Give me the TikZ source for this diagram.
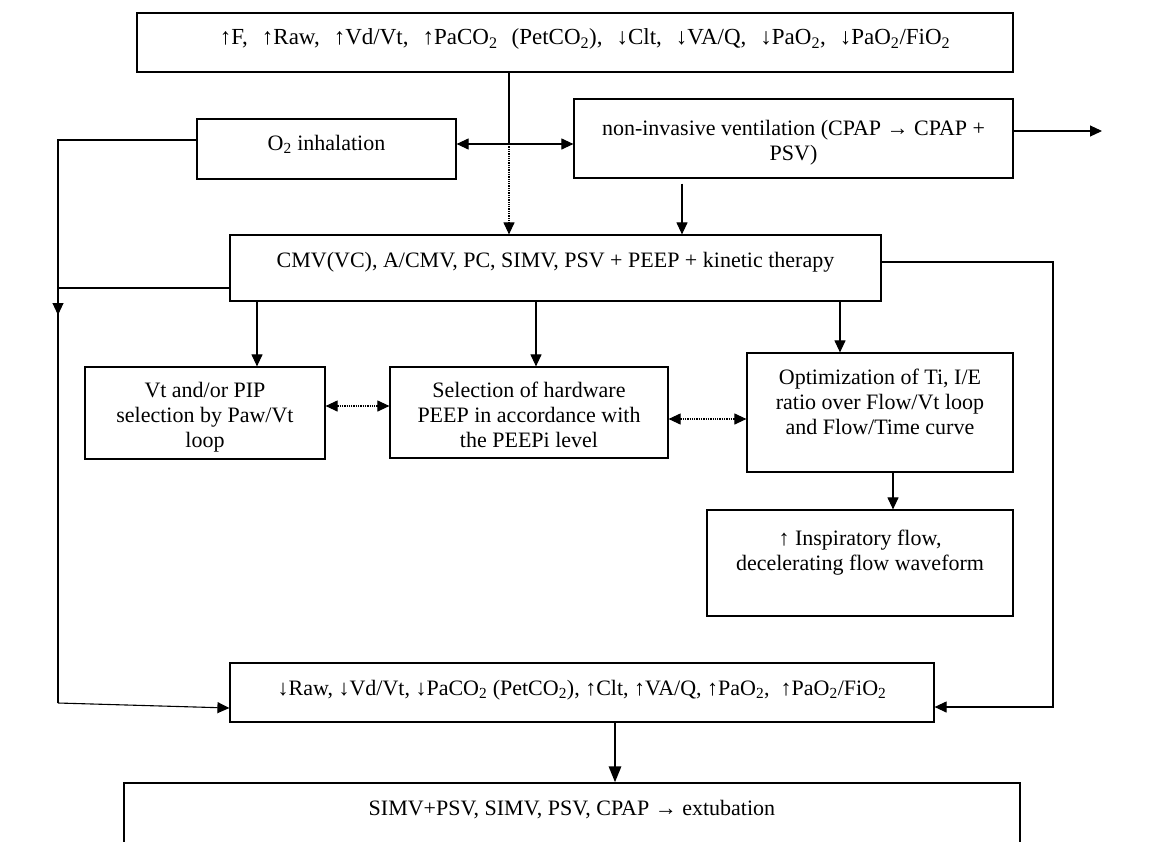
\documentclass[tikz,border=0pt]{standalone}
\usepackage{fontspec}
\setmainfont{Liberation Serif}
\usetikzlibrary{arrows.meta}
\usetikzlibrary{calc}
\newcommand{\boxtxt}[4]{\parbox[c][#2pt][t]{#1pt}{\centering\vspace*{#3pt}#4\par}}
\newcommand{\two}{\textsubscript{2}}

\begin{document}
\begin{tikzpicture}[x=1pt, y=-1pt,
	box/.style={draw, line width=1.2pt, inner sep=0pt, font=\fontsize{22}{25}\selectfont},
	arr/.style={-{Triangle[length=12pt,width=11pt]}, line width=1.1pt},
	bigarr/.style={-{Triangle[length=16pt,width=12pt]}, line width=2.8pt},
	dotarr/.style={-{Triangle[length=12pt,width=11pt]}, line width=1.1pt, dash pattern=on 1.3pt off 1pt},
	dblarr/.style={{Triangle[length=12pt,width=11pt]}-{Triangle[length=12pt,width=11pt]}, line width=1.1pt, dash pattern=on 1.3pt off 1pt}]
				\clip (0,0) rectangle (1156,841);
				% boxes
				\node[box] (top) at (575,42.5) {\boxtxt{876}{59}{16}{\fontsize{23}{25}\selectfont\spaceskip=14pt\hspace*{20pt}↑F, ↑Raw, ↑Vd/Vt, ↑PaCO\two{} (PetCO\two), ↓Clt, ↓VA/Q, ↓PaO\two, ↓PaO\two/FiO\two}};
				\node[box] (otwo) at (326.5,149) {\boxtxt{259}{60}{16.5}{O\two{} inhalation}};
				\node[box] (niv) at (793.5,138.5) {\boxtxt{439}{79}{21.5}{non-invasive ventilation (CPAP → CPAP +\\ PSV)}};
				\node[box] (cmv) at (555.5,268) {\boxtxt{651}{66}{17.5}{CMV(VC), A/CMV, PC, SIMV, PSV + PEEP + kinetic therapy}};
				\node[box] (vt) at (205,413) {\boxtxt{240}{92}{15.5}{Vt and/or PIP\\ selection by Paw/Vt\\ loop}};
				\node[box] (hwpeep) at (529,412.5) {\boxtxt{278}{91}{15.5}{Selection of hardware\\ PEEP in accordance with\\ the PEEPi level}};
				\node[box] (optim) at (880,412.5) {\boxtxt{266}{119}{16.5}{Optimization of Ti, I/E\\ ratio over Flow/Vt loop\\ and Flow/Time curve}};
				\node[box] (insp) at (860,563) {\boxtxt{306}{106}{19.5}{↑ Inspiratory flow,\\ decelerating flow waveform}};
				\node[box] (result) at (582,692.5) {\boxtxt{704}{59}{17.5}{↓Raw, ↓Vd/Vt, ↓PaCO\two{} (PetCO\two), ↑Clt, ↑VA/Q, ↑PaO\two,~ ↑PaO\two/FiO\two}};
				\node[box] (wean) at (572,833) {\boxtxt{896}{100}{17.5}{SIMV+PSV, SIMV, PSV, CPAP → extubation}};
				
				% branch below the first box
				\coordinate (split) at (509,144);
				\draw[line width=2.8pt] (top.south -| split) -- (split);
				\draw[arr] (split) -- ([yshift=5pt]otwo.east);
				\draw[arr] (split) -- ([yshift=-5.5pt]niv.west);
				\draw[dotarr] (split) -- (cmv.north -| split);
				\coordinate (nivout) at (1102,131);
				\draw[arr] ([yshift=7.5pt]niv.east) -- (nivout);
				\draw[arr, shorten <=5pt] (niv.south -| 682,0) -- (cmv.north -| 682,0);
				
				% from the ventilation modes
				\draw[arr] (cmv.south -| 257,0) -- (vt.north -| 257,0);
				\draw[arr] (cmv.south -| 536,0) -- (hwpeep.north -| 536,0);
				\draw[arr] (cmv.south -| 840,0) -- (optim.north -| 840,0);
				\draw[arr] (optim.south -| 893,0) -- (insp.north -| 893,0);
				\draw[dblarr] ([yshift=7pt]vt.east) -- ([yshift=6.5pt]hwpeep.west);
				\draw[dblarr] ([yshift=-6.5pt]hwpeep.east) -- ([yshift=-6.5pt]optim.west);
				
				% left loop
				\coordinate (ltop) at (58,140);
				\coordinate (lmid) at (58,315);
				\coordinate (lbot) at (58,703);
				\draw[line width=1.1pt] ([yshift=9pt]otwo.west) -- (ltop) -- (lbot);
				\draw[arr] ([yshift=-20pt]cmv.west) -| (lmid);
				\draw[arr] (lbot) -- ([yshift=-15.5pt]result.west);
				
				% right loop
				\coordinate (rtop) at (1053,262);
				\coordinate (rbot) at (1053,707);
				\draw[arr] ([yshift=6pt]cmv.east) -- (rtop) -- (rbot) -- ([yshift=-14.5pt]result.east);
				
				\draw[bigarr] (result.south -| 615,0) -- (wean.north -| 615,0);
			\end{tikzpicture}
\end{document}
